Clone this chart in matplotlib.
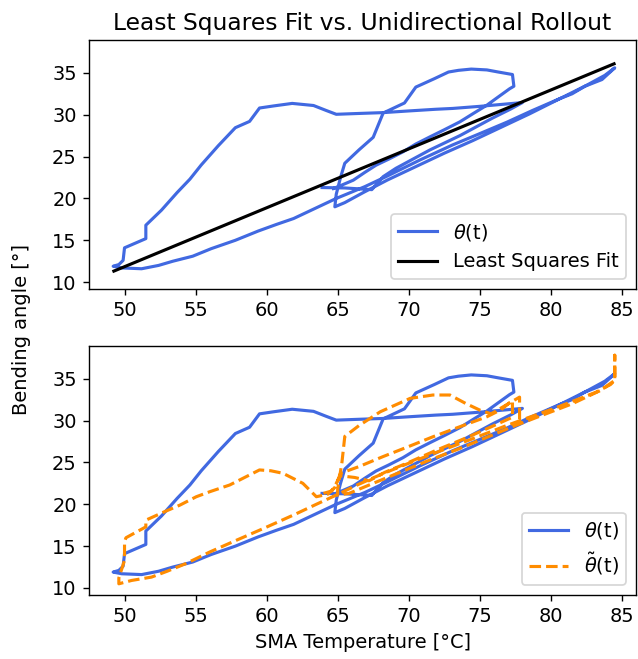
import numpy as np
import matplotlib
matplotlib.use('Agg')
import matplotlib.pyplot as plt

plt.rcParams['font.size'] = 11.2

# gemessener Biegewinkel theta(t) ueber SMA-Temperatur
temp_blau = [63.9, 65.5, 67.4, 68.2, 69.1, 71.5, 73.6, 75.9, 77.2, 78.0,
             77.0, 75.0, 73.1, 71.9, 70.0, 68.2, 66.5, 64.9,
             64.2, 63.3, 61.8, 60.5, 59.5, 58.8, 57.8, 56.6, 55.4, 54.6, 53.7, 52.6, 51.5, 51.5, 50.0, 49.9, 49.6, 49.2,
             49.8, 51.2, 52.4, 53.4, 54.8, 56.1, 57.8, 59.4, 60.7, 61.9, 63.4, 64.9, 66.9, 68.4, 70.8, 73.1, 74.8, 76.9,
             78.7, 80.6, 81.5, 82.4, 83.6, 84.5,
             83.8, 82.5, 80.5, 78.5, 76.5, 74.5, 72.5, 70.5, 68.5, 66.8, 65.5, 64.8,
             64.9, 65.2, 65.5, 66.5, 67.5, 68.2, 69.7, 70.5, 71.8, 72.8, 73.5, 74.4, 75.5, 76.3, 77.3, 77.4, 77.1,
             76.2, 75.5, 74.5, 73.6, 72.5, 71.5, 70.5, 69.6, 68.6, 67.7, 66.9, 66.1, 65.3, 64.7]
theta_blau = [21.3, 21.25, 21.05, 22.6, 23.6, 25.8, 27.5, 29.6, 30.7, 31.45,
              31.3, 31.0, 30.75, 30.65, 30.45, 30.25, 30.15, 30.05,
              30.5, 31.1, 31.35, 31.05, 30.8, 29.2, 28.45, 26.3, 24.0, 22.3, 20.7, 18.6, 16.8, 15.2, 14.1, 12.6, 12.1, 11.9,
              11.7, 11.6, 12.0, 12.5, 13.1, 14.0, 15.0, 16.1, 16.9, 17.6, 18.8, 20.0, 21.4, 22.6, 24.6, 26.4, 27.6, 29.1,
              30.5, 31.9, 32.5, 33.4, 34.2, 35.6,
              34.7, 33.5, 31.8, 30.1, 28.5, 26.9, 25.4, 23.8, 22.2, 20.7, 19.5, 19.0,
              20.5, 22.5, 24.2, 25.8, 27.3, 30.2, 31.4, 33.3, 34.3, 35.1, 35.3, 35.45, 35.35, 35.1, 34.8, 33.4, 33.1,
              32.0, 31.14, 30.1, 29.15, 28.2, 27.36, 26.5, 25.57, 24.7, 23.97, 23.1, 22.18, 21.6, 21.18]

# Rollout theta~(t)
temp_orange = [64.0, 64.6, 65.2, 66.2, 67.2, 68.3, 70.0, 72.0, 74.0, 76.0, 77.3, 77.3,
               76.5, 75.5, 73.5, 71.7, 70.0, 68.2, 66.5, 65.2, 64.8, 64.3, 63.5,
               62.55, 61.15, 60.3, 59.5, 58.1, 57.4, 56.0, 55.05, 53.9, 52.8, 51.5, 51.5, 50.1, 50.0, 50.0, 49.6, 49.6,
               50.5, 51.9, 53.0, 54.3, 56.0, 57.6, 59.9, 62.0, 63.5, 64.9, 66.5, 68.1, 70.0, 71.8, 74.3, 76.8,
               78.5, 80.0, 82.0, 83.2, 84.2, 84.5, 84.5, 84.5,
               83.5, 81.5, 79.5, 77.5, 75.5, 73.5, 71.5, 69.5, 67.5, 65.8, 65.0,
               65.0, 65.3, 65.5, 66.5, 68.0, 70.1, 71.7, 72.9, 74.0, 75.0, 75.8, 76.8, 77.8, 77.8]
theta_orange = [21.3, 21.6, 23.4, 23.2, 22.8, 23.8, 25.0, 26.5, 27.9, 29.4, 30.4, 32.4,
                31.3, 30.45, 29.2, 28.06, 26.9, 25.7, 24.5, 23.7, 22.0, 21.2, 20.9,
                22.5, 23.7, 24.0, 24.1, 22.9, 22.3, 21.5, 20.9, 19.9, 19.1, 18.1, 17.3, 16.0, 15.5, 13.3, 11.2, 10.5,
                10.9, 11.3, 12.0, 12.9, 14.3, 15.5, 17.2, 18.8, 20.0, 21.1, 22.4, 23.6, 24.9, 26.1, 27.7, 29.35,
                30.4, 31.3, 32.6, 33.4, 34.3, 34.8, 37.8, 34.8,
                33.6, 32.0, 30.7, 29.4, 28.0, 26.6, 25.3, 23.9, 22.5, 21.3, 21.1,
                21.8, 25.0, 28.1, 29.4, 31.05, 32.65, 33.05, 33.05, 32.05, 31.25, 30.8, 31.8, 32.8, 30.0]

# Least Squares Fit (Endpunkte der Geraden)
fit_x = [49.25, 84.45]
fit_y = [11.32, 36.08]

blau = '#4169E1'
orange = '#FF8C00'

fig, (ax1, ax2) = plt.subplots(2, 1, figsize=(638/125, 659/125), dpi=125)
fig.subplots_adjust(left=0.1395, right=0.997, top=0.939, bottom=0.0976, hspace=0.23)

ax1.plot(temp_blau, theta_blau, color=blau, lw=1.8, label=r'$\theta$(t)')
ax1.plot(fit_x, fit_y, color='black', lw=1.8, label='Least Squares Fit')
ax1.set_title('Least Squares Fit vs. Unidirectional Rollout')
ax1.legend(loc='lower right')

ax2.plot(temp_blau, theta_blau, color=blau, lw=1.8, label=r'$\theta$(t)')
ax2.plot(temp_orange, theta_orange, color=orange, lw=1.8, ls='--', label=r'$\tilde{\theta}$(t)')
ax2.set_xlabel('SMA Temperature [°C]')
ax2.legend(loc='lower right')

for ax in (ax1, ax2):
    ax.set_xlim(47.5, 86.0)
    ax.set_ylim(9.2, 38.9)
    ax.set_xticks([50, 55, 60, 65, 70, 75, 80, 85])
    ax.set_yticks([10, 15, 20, 25, 30, 35])

fig.text(0.034, 0.5, 'Bending angle [°]', rotation=90, va='center', ha='center')

fig.savefig('out.png', dpi=125)
